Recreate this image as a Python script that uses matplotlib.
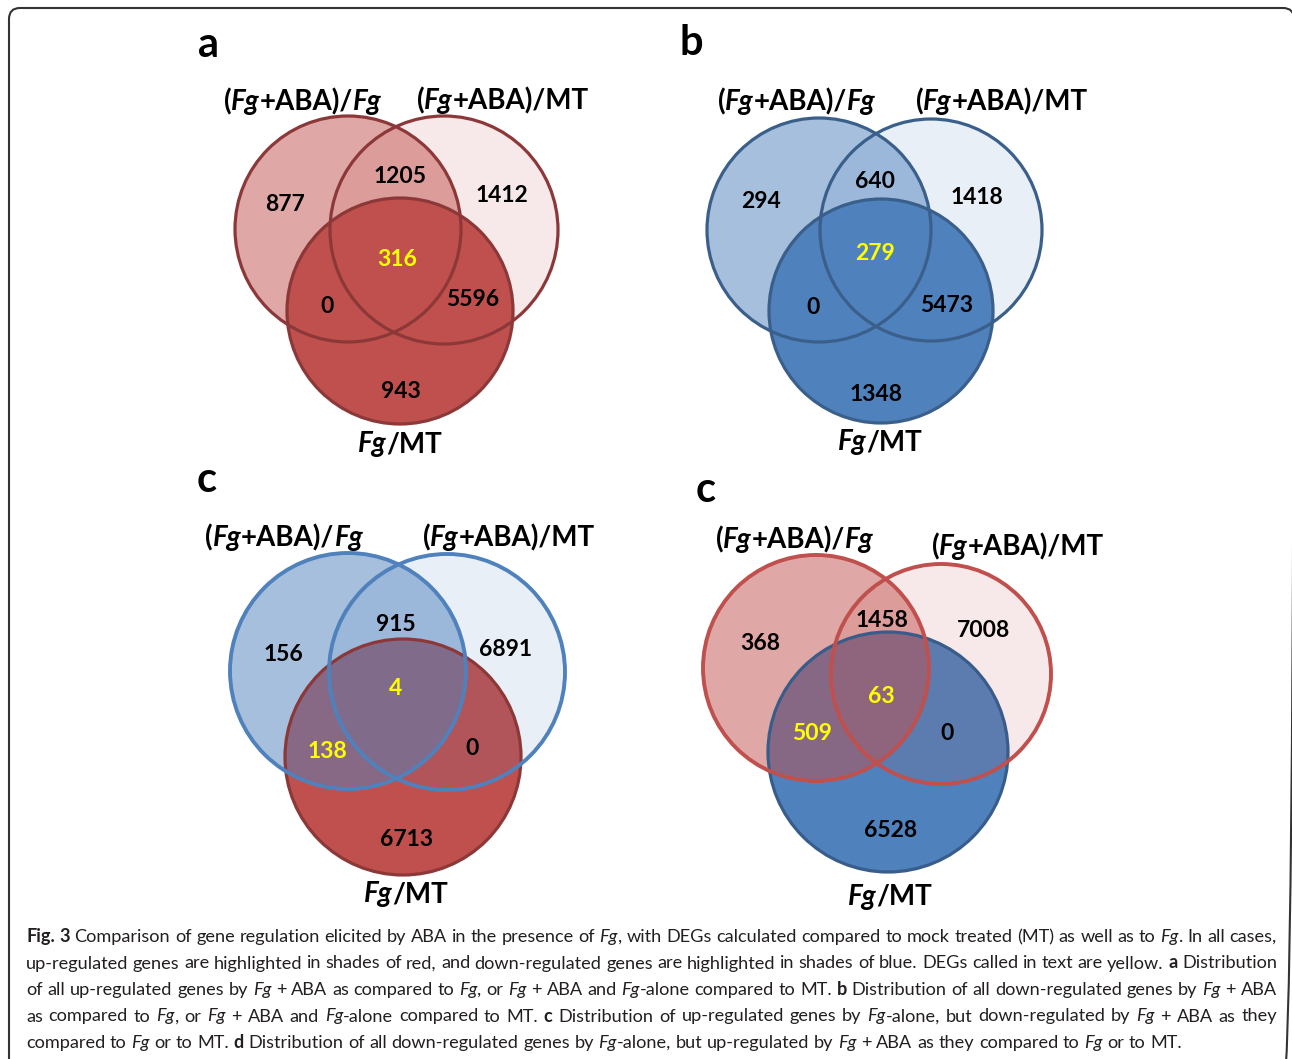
import re
import matplotlib
matplotlib.use('Agg')
import matplotlib.pyplot as plt
from matplotlib.patches import Circle, FancyBboxPatch
from matplotlib.colors import to_rgba

# --- data: region counts for each Venn panel ---
# region order: A only, A&B, B only, A&B&C, A&C, B&C, C only
regions = ['A', 'AB', 'B', 'ABC', 'AC', 'BC', 'C']
counts_a = [877, 1205, 1412, 316, 0, 5596, 943]
counts_b = [294, 640, 1418, 279, 0, 5473, 1348]
counts_c = [156, 915, 6891, 4, 138, 0, 6713]
counts_d = [368, 1458, 7008, 63, 509, 0, 6528]
yellow_a = ['ABC']
yellow_b = ['ABC']
yellow_c = ['ABC', 'AC']
yellow_d = ['ABC', 'AC']
panel_letters = ['a', 'b', 'c', 'c']
# set labels as (text, style) runs
label_A = [('(', 'bf'), ('Fg', 'bi'), ('+ABA)/', 'bf'), ('Fg', 'bi')]
label_B = [('(', 'bf'), ('Fg', 'bi'), ('+ABA)/MT', 'bf')]
label_C = [('Fg', 'bi'), ('/MT', 'bf')]

caption_lines = [
    "**Fig. 3** Comparison of gene regulation elicited by ABA in the presence of *Fg*, with DEGs calculated compared to mock treated (MT) as well as to *Fg*. In all cases,",
    "up-regulated genes are highlighted in shades of red, and down-regulated genes are highlighted in shades of blue. DEGs called in text are yellow. **a** Distribution",
    "of all up-regulated genes by *Fg* + ABA as compared to *Fg*, or *Fg* + ABA and *Fg*-alone compared to MT. **b** Distribution of all down-regulated genes by *Fg* + ABA",
    "as compared to *Fg*, or *Fg* + ABA and *Fg*-alone compared to MT. **c** Distribution of up-regulated genes by *Fg*-alone, but down-regulated by *Fg* + ABA as they",
    "compared to *Fg* or to MT. **d** Distribution of all down-regulated genes by *Fg*-alone, but up-regulated by *Fg* + ABA as they compared to *Fg* or to MT.",
]

# --- layout (pixels) ---
RED, BLUE = '#C0504D', '#4F81BD'
DRED, DBLUE = '#8C3838', '#3A5F8A'
panels = [
    dict(counts=counts_a, yellow=yellow_a, letter=(198, 57),
         circles={'A': (348, 229, 113), 'B': (444, 230, 114), 'C': (400, 311, 113)},
         fills=[('B', RED, 0.12), ('A', RED, 0.5), ('C', RED, 1.0)],
         edges=[('A', DRED, 2.3), ('B', DRED, 2.3), ('C', DRED, 2.3)],
         nums=[(285, 203), (400, 175), (502, 194), (397, 258), (327, 305), (473, 298), (401, 390)],
         labels=[(303, 110), (503, 109), (400, 452)]),
    dict(counts=counts_b, yellow=yellow_b, letter=(679, 55),
         circles={'A': (819, 230, 112), 'B': (931, 230, 111), 'C': (881, 311, 112)},
         fills=[('B', BLUE, 0.12), ('A', BLUE, 0.5), ('C', BLUE, 1.0)],
         edges=[('A', DBLUE, 2.3), ('B', DBLUE, 2.3), ('C', DBLUE, 2.3)],
         nums=[(761, 200), (875, 180), (977, 196), (875, 252), (813, 306), (947, 304), (876, 393)],
         labels=[(797, 110), (1002, 110), (880, 450)]),
    dict(counts=counts_c, yellow=yellow_c, letter=(197, 492),
         circles={'A': (348, 671, 118), 'B': (447, 672, 118), 'C': (403, 757, 118)},
         fills=[('C', RED, 1.0), ('B', BLUE, 0.12), ('A', BLUE, 0.5)],
         edges=[('C', DRED, 2.3), ('A', BLUE, 2.8), ('B', BLUE, 2.8)],
         nums=[(283, 653), (396, 623), (505, 648), (396, 687), (327, 750), (472, 747), (407, 838)],
         labels=[(284, 546), (509, 546), (406, 902)]),
    dict(counts=counts_d, yellow=yellow_d, letter=(696, 502),
         circles={'A': (816, 668, 113), 'B': (941, 674, 110), 'C': (888, 752, 120)},
         fills=[('C', BLUE, 1.0), ('B', RED, 0.12), ('A', RED, 0.5)],
         edges=[('C', '#385D8A', 2.3), ('A', RED, 2.8), ('B', RED, 2.8)],
         nums=[(760, 642), (882, 619), (983, 629), (881, 695), (812, 732), (947, 732), (891, 829)],
         labels=[(795, 548), (1018, 555), (890, 905)]),
]

W, H = 1292, 1059
fig = plt.figure(figsize=(W / 100, H / 100), dpi=100)
ax = fig.add_axes([0, 0, 1, 1])
ax.set_xlim(0, W)
ax.set_ylim(H, 0)
ax.axis('off')
renderer = fig.canvas.get_renderer()

FONT = 'Lato'
STYLES = {'rm': ('normal', 'normal'), 'it': ('normal', 'italic'),
          'bf': ('bold', 'normal'), 'bi': ('bold', 'italic')}


def make_runs(runs, y, size, color):
    texts, widths = [], []
    for s, st in runs:
        w, sty = STYLES[st]
        t = ax.text(0, y, s, fontsize=size, family=FONT, weight=w, style=sty,
                    color=color, va='baseline', ha='left')
        texts.append(t)
        widths.append(t.get_window_extent(renderer).width)
    return texts, widths


def place_runs(texts, widths, x0):
    for t, w in zip(texts, widths):
        t.set_x(x0)
        x0 += w
    return x0


def centered_runs(x, y, runs, size, color='black'):
    texts, widths = make_runs(runs, y, size, color)
    place_runs(texts, widths, x - sum(widths) / 2)


# outer frame
frame = FancyBboxPatch((9, 8), 1285, 1080, boxstyle='round,pad=0,rounding_size=11',
                       fc='none', ec='#333333', lw=1.5, clip_on=True)
ax.add_patch(frame)

for n, p in enumerate(panels):
    for key, col, a in p['fills']:
        cx, cy, r = p['circles'][key]
        ax.add_patch(Circle((cx, cy), r, fc=to_rgba(col, a), ec='none'))
    for key, col, lw in p['edges']:
        cx, cy, r = p['circles'][key]
        ax.add_patch(Circle((cx, cy), r, fc='none', ec=col, lw=lw))
    for reg, v, (x, y) in zip(regions, p['counts'], p['nums']):
        c = '#FFFF00' if reg in p['yellow'] else 'black'
        ax.text(x, y + 8, str(v), ha='center', va='baseline', fontsize=16.5,
                weight='bold', family=FONT, color=c)
    for runs, (x, y) in zip([label_A, label_B, label_C], p['labels']):
        centered_runs(x, y, runs, 20)
    lx, ly = p['letter']
    ax.text(lx, ly, panel_letters[n], ha='left', va='baseline',
            fontsize=30, weight='bold', family=FONT, color='black')


# caption, justified line by line
def parse_words(line):
    runs = []
    for tok in re.split(r'(\*\*[^*]+\*\*|\*[^*]+\*)', line):
        if not tok:
            continue
        if tok.startswith('**'):
            runs.append((tok[2:-2], 'bf'))
        elif tok.startswith('*'):
            runs.append((tok[1:-1], 'it'))
        else:
            runs.append((tok, 'rm'))
    words = [[]]
    for text, st in runs:
        for i, part in enumerate(text.split(' ')):
            if i > 0:
                words.append([])
            if part:
                words[-1].append((part, st))
    return [w for w in words if w]


CAP_SIZE = 13.1
CAP_COLOR = '#231F20'
x_left, x_right = 26, 1277
t1 = ax.text(0, 0, 'a a', fontsize=CAP_SIZE, family=FONT)
t2 = ax.text(0, 0, 'aa', fontsize=CAP_SIZE, family=FONT)
space_w = t1.get_window_extent(renderer).width - t2.get_window_extent(renderer).width
t1.remove()
t2.remove()

for i, line in enumerate(caption_lines):
    y = 942 + 26.5 * i
    words = parse_words(line)
    made = [make_runs(w, y, CAP_SIZE, CAP_COLOR) for w in words]
    total = sum(sum(ws) for _, ws in made)
    if i < len(caption_lines) - 1:
        gap = (x_right - x_left - total) / (len(words) - 1)
    else:
        gap = space_w
    x = x_left
    for texts, widths in made:
        x = place_runs(texts, widths, x) + gap

fig.savefig('out.png', dpi=100, facecolor='white')
